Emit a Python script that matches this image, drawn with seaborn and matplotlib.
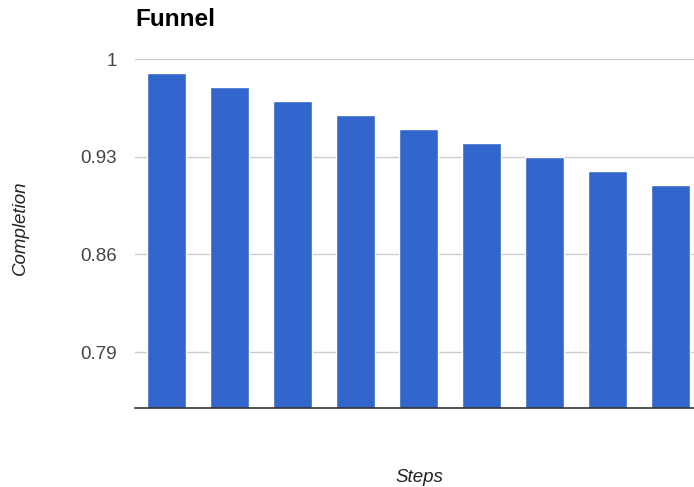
import matplotlib
matplotlib.use("Agg")
import matplotlib.pyplot as plt
import seaborn as sns
import pandas as pd

steps = ["Step 1", "Step 2", "Step 3", "Step 4", "Step 5", "Step 6", "Step 7", "Step 8", "Step 9"]
completion = [0.99, 0.98, 0.97, 0.96, 0.95, 0.94, 0.93, 0.92, 0.91]
yticks = [0.79, 0.86, 0.93, 1.0]
ytick_labels = ["0.79", "0.86", "0.93", "1"]

sns.set_theme(style="white")
plt.rcParams['font.family'] = ['Liberation Sans', 'DejaVu Sans']

df = pd.DataFrame({"Steps": steps, "Completion": completion})

fig = plt.figure(figsize=(6.94, 4.87), dpi=100)
ax = fig.add_axes([135/694, 79/487, 559/694, 349/487])

sns.barplot(data=df, x="Steps", y="Completion", color="#3366cc", saturation=1,
            width=0.61, ax=ax, zorder=3)

ax.set_ylim(0.75, 1.0)
ax.set_xlim(-0.5, -0.5 + 559/63)
ax.set_yticks(yticks)
ax.set_yticklabels(ytick_labels, fontsize=13.5, color="#444444")
ax.set_xticks([])
ax.tick_params(axis="y", length=0, pad=13)
ax.grid(axis="y", color="#cccccc", linewidth=1, zorder=0)
ax.set_axisbelow(True)
for s in ["top", "right", "left"]:
    ax.spines[s].set_visible(False)
ax.spines["bottom"].set_color("#333333")
ax.spines["bottom"].set_linewidth(1.2)
ax.spines["bottom"].set_zorder(4)

ax.set_xlabel("")
ax.set_ylabel("")
fig.text(419/694, 1 - 477/487, "Steps", ha="center", va="center", fontsize=13.5,
         style="italic", color="#222222")
fig.text(20/694, 1 - 228/487, "Completion", ha="center", va="center", fontsize=13.5,
         style="italic", color="#222222", rotation=90)
fig.text(135/694, 1 - 19/487, "Funnel", ha="left", va="center", fontsize=17.5,
         fontweight="bold", color="#000000")

fig.savefig("out.png", dpi=100)
